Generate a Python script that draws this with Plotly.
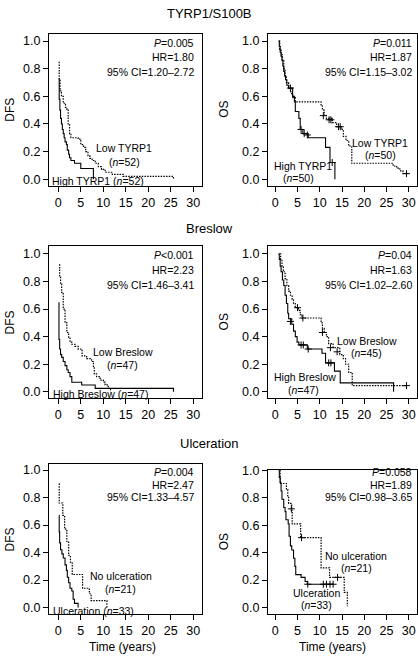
import plotly.graph_objects as go

W, H = 418, 657

# ---------------- data ----------------
time_ticks = [0, 5, 10, 15, 20, 25, 30]
surv_ticks = [0.0, 0.2, 0.4, 0.6, 0.8, 1.0]
surv_tick_labels = ["0.0", "0.2", "0.4", "0.6", "0.8", "1.0"]
section_titles = ["TYRP1/S100B", "Breslow", "Ulceration"]
y_titles = ["DFS", "OS", "DFS", "OS", "DFS", "OS"]

# TYRP1/S100B - DFS
tyrp1_dfs_high_t = [0.2, 0.2, 0.35, 0.5, 0.7, 0.9, 1.1, 1.3, 1.5, 1.8, 2.0, 2.3, 2.5, 2.8, 3.6, 5.0, 7.8]
tyrp1_dfs_high_s = [0.73, 0.58, 0.50, 0.44, 0.40, 0.36, 0.33, 0.30, 0.27, 0.25, 0.21, 0.18, 0.155, 0.135, 0.115, 0.077, 0.0]
tyrp1_dfs_low_t = [0.2, 0.2, 0.4, 0.7, 1.1, 1.6, 1.9, 2.2, 2.5, 2.8, 4.4, 5.0, 5.6, 6.1, 6.6, 7.0, 7.5, 8.2, 8.9, 9.6, 10.4, 12.0, 14.4, 25.6]
tyrp1_dfs_low_s = [0.85, 0.72, 0.64, 0.60, 0.55, 0.52, 0.50, 0.40, 0.33, 0.30, 0.29, 0.25, 0.23, 0.20, 0.17, 0.15, 0.135, 0.115, 0.09, 0.07, 0.05, 0.035, 0.02, 0.0]

# TYRP1/S100B - OS
tyrp1_os_high_t = [0.75, 0.9, 1.1, 1.3, 1.5, 1.7, 1.9, 2.1, 2.3, 2.6, 3.0, 3.9, 4.3, 4.5, 5.3, 5.6, 6.2, 7.4, 11.3, 12.3, 13.4]
tyrp1_os_high_s = [1.0, 0.96, 0.92, 0.89, 0.86, 0.82, 0.78, 0.75, 0.72, 0.68, 0.66, 0.60, 0.56, 0.49, 0.44, 0.36, 0.33, 0.30, 0.23, 0.12, 0.0]
tyrp1_os_high_cens_t = [3.4, 5.8, 6.5, 7.2, 12.8]
tyrp1_os_high_cens_s = [0.66, 0.36, 0.33, 0.32, 0.12]
tyrp1_os_low_t = [0.75, 1.0, 1.3, 1.6, 1.9, 2.2, 2.5, 3.0, 3.5, 3.9, 4.5, 10.3, 10.6, 11.0, 11.5, 12.8, 13.8, 14.8, 15.3, 15.9, 16.5, 17.2, 26.5, 27.3, 28.0, 28.7, 29.5]
tyrp1_os_low_s = [1.0, 0.94, 0.90, 0.86, 0.80, 0.74, 0.70, 0.66, 0.62, 0.59, 0.56, 0.53, 0.50, 0.46, 0.44, 0.41, 0.38, 0.36, 0.31, 0.28, 0.24, 0.115, 0.095, 0.08, 0.06, 0.04, 0.04]
tyrp1_os_low_cens_t = [10.8, 12.1, 12.5, 14.2, 14.6, 29.5]
tyrp1_os_low_cens_s = [0.46, 0.43, 0.43, 0.38, 0.38, 0.04]

# Breslow - DFS
breslow_dfs_high_t = [0.15, 0.15, 0.3, 0.5, 0.75, 1.1, 1.5, 1.9, 2.2, 2.6, 3.0, 5.2, 8.2, 25.6]
breslow_dfs_high_s = [0.65, 0.38, 0.31, 0.27, 0.25, 0.22, 0.19, 0.16, 0.14, 0.11, 0.07, 0.05, 0.025, 0.0]
breslow_dfs_low_t = [0.15, 0.3, 0.5, 0.75, 1.1, 1.5, 1.9, 2.3, 2.6, 3.0, 3.7, 4.4, 5.0, 5.3, 6.3, 7.4, 7.8, 8.0, 8.5, 9.3, 10.0, 10.4, 11.1, 11.6]
breslow_dfs_low_s = [0.92, 0.84, 0.78, 0.72, 0.60, 0.50, 0.43, 0.39, 0.36, 0.345, 0.33, 0.31, 0.30, 0.26, 0.24, 0.22, 0.18, 0.13, 0.11, 0.085, 0.07, 0.05, 0.025, 0.0]

# Breslow - OS
breslow_os_high_t = [0.7, 0.9, 1.1, 1.3, 1.6, 1.9, 2.2, 2.5, 2.8, 3.0, 3.7, 4.1, 4.5, 4.9, 5.3, 7.2, 10.5, 11.3, 13.3, 14.6, 26.6]
breslow_os_high_s = [1.0, 0.96, 0.91, 0.87, 0.81, 0.77, 0.70, 0.64, 0.57, 0.53, 0.49, 0.44, 0.40, 0.36, 0.34, 0.31, 0.28, 0.21, 0.15, 0.065, 0.0]
breslow_os_high_cens_t = [3.4, 5.8, 6.3, 7.4, 12.0, 12.5]
breslow_os_high_cens_s = [0.51, 0.34, 0.34, 0.31, 0.21, 0.21]
breslow_os_low_t = [1.0, 1.2, 1.5, 1.8, 2.2, 2.6, 3.0, 3.4, 3.8, 4.1, 4.5, 5.2, 5.6, 6.0, 10.3, 10.6, 11.0, 11.5, 12.0, 13.0, 14.5, 15.3, 15.8, 16.5, 17.3, 29.5]
breslow_os_low_s = [1.0, 0.96, 0.91, 0.87, 0.82, 0.77, 0.73, 0.70, 0.67, 0.64, 0.61, 0.59, 0.56, 0.535, 0.50, 0.46, 0.43, 0.40, 0.35, 0.32, 0.27, 0.24, 0.20, 0.14, 0.045, 0.045]
breslow_os_low_cens_t = [5.0, 6.2, 10.6, 12.4, 13.9, 29.5]
breslow_os_low_cens_s = [0.61, 0.535, 0.43, 0.32, 0.29, 0.045]

# Ulceration - DFS
ulcer_dfs_yes_t = [0.15, 0.2, 0.3, 0.5, 0.8, 1.1, 1.5, 1.8, 2.0, 2.3, 2.6, 3.0, 3.3, 3.6, 4.4]
ulcer_dfs_yes_s = [0.67, 0.55, 0.47, 0.42, 0.39, 0.36, 0.31, 0.27, 0.22, 0.18, 0.14, 0.12, 0.06, 0.03, 0.0]
ulcer_dfs_no_t = [0.15, 0.2, 1.0, 1.4, 1.9, 2.3, 2.7, 3.1, 5.4, 6.9, 7.3, 10.8]
ulcer_dfs_no_s = [0.90, 0.76, 0.67, 0.57, 0.48, 0.38, 0.33, 0.24, 0.14, 0.10, 0.05, 0.0]

# Ulceration - OS
ulcer_os_yes_t = [0.75, 0.9, 1.1, 1.3, 1.5, 1.9, 2.2, 2.4, 2.9, 3.1, 3.4, 3.7, 4.1, 4.4, 4.6, 5.8, 6.7, 7.2, 13.1]
ulcer_os_yes_s = [1.0, 0.95, 0.91, 0.85, 0.79, 0.73, 0.70, 0.64, 0.61, 0.52, 0.45, 0.42, 0.36, 0.30, 0.24, 0.22, 0.19, 0.17, 0.17]
ulcer_os_yes_cens_t = [7.3, 10.8, 11.5, 12.3, 13.0]
ulcer_os_yes_cens_s = [0.17, 0.17, 0.17, 0.17, 0.17]
ulcer_os_no_t = [1.0, 1.1, 2.5, 2.8, 3.0, 3.7, 3.8, 5.7, 10.3, 12.2, 15.5, 16.2]
ulcer_os_no_s = [1.0, 0.905, 0.86, 0.81, 0.76, 0.71, 0.61, 0.51, 0.29, 0.22, 0.11, 0.01]
ulcer_os_no_cens_t = [3.6, 5.9, 14.0]
ulcer_os_no_cens_s = [0.72, 0.51, 0.22]

stats = [
    ["<i>P</i>=0.005", "HR=1.80", "95% CI=1.20–2.72"],
    ["<i>P</i>=0.011", "HR=1.87", "95% CI=1.15–3.02"],
    ["<i>P</i>&lt;0.001", "HR=2.23", "95% CI=1.46–3.41"],
    ["<i>P</i>=0.04", "HR=1.63", "95% CI=1.02–2.60"],
    ["<i>P</i>=0.004", "HR=2.47", "95% CI=1.33–4.57"],
    ["<i>P</i>=0.058", "HR=1.89", "95% CI=0.98–3.65"],
]

curve_labels = [
    [["Low TYRP1", "(<i>n</i>=52)"], ["High TYRP1 (<i>n</i>=52)"]],
    [["Low TYRP1", "(<i>n</i>=50)"], ["High TYRP1", "(<i>n</i>=50)"]],
    [["Low Breslow", "(<i>n</i>=47)"], ["High Breslow (<i>n</i>=47)"]],
    [["Low Breslow", "(<i>n</i>=45)"], ["High Breslow", "(<i>n</i>=47)"]],
    [["No ulceration", "(<i>n</i>=21)"], ["Ulceration (<i>n</i>=33)"]],
    [["No ulceration", "(<i>n</i>=21)"], ["Ulceration", "(<i>n</i>=33)"]],
]

# ---------------- layout geometry (pixels) ----------------
# box: (left, right, top, bottom); tick px: x at t=0, x at t=30, y at s=1, y at s=0
geom = [
    dict(box=(49, 201.7, 28, 181.7), x0=58.3, x30=193.3, y1=35.5, y0=175),
    dict(box=(268, 416.5, 28, 181.7), x0=275.3, x30=408.7, y1=35.5, y0=175),
    dict(box=(49, 201.7, 243, 396.7), x0=58.3, x30=193.3, y1=250.5, y0=390),
    dict(box=(268, 416.5, 243, 396.7), x0=275.3, x30=408.7, y1=250.5, y0=390),
    dict(box=(49, 201.7, 463.3, 615), x0=58.3, x30=193.3, y1=469, y0=608),
    dict(box=(268, 416.5, 469, 615), x0=275.3, x30=408.7, y1=469.5, y0=608),
]
stat_pos = [  # right edge x, y of three lines
    (195.5, [37, 51.5, 66.5]),
    (413.5, [37, 51.5, 66.5]),
    (195.5, [252, 266.5, 281.5]),
    (413.5, [252, 266.5, 281.5]),
    (195.5, [471.5, 484, 496]),
    (413.5, [471.5, 484, 496]),
]
label_pos = [
    [[(124, 144), (124, 158)], [(97.5, 176.5)]],
    [[(379.5, 138.5), (380, 151)], [(302.5, 162), (298, 174)]],
    [[(123, 349.3), (122, 362.7)], [(100.3, 391.7)]],
    [[(367, 338.3), (366.3, 350.5)], [(305.3, 375), (303.3, 388)]],
    [[(120.8, 576.3), (120.8, 589.7)], [(93.7, 611.3)]],
    [[(356.2, 556.3), (356, 568.5)], [(316.2, 593.5), (316, 605.5)]],
]
section_y = [8, 225, 442]
ytitle_x = [10, 224]

FONT = "Liberation Sans, Arial, Helvetica, sans-serif"

curves = [
    [(tyrp1_dfs_low_t, tyrp1_dfs_low_s, None, None, "dot"),
     (tyrp1_dfs_high_t, tyrp1_dfs_high_s, None, None, "solid")],
    [(tyrp1_os_low_t, tyrp1_os_low_s, tyrp1_os_low_cens_t, tyrp1_os_low_cens_s, "dot"),
     (tyrp1_os_high_t, tyrp1_os_high_s, tyrp1_os_high_cens_t, tyrp1_os_high_cens_s, "solid")],
    [(breslow_dfs_low_t, breslow_dfs_low_s, None, None, "dot"),
     (breslow_dfs_high_t, breslow_dfs_high_s, None, None, "solid")],
    [(breslow_os_low_t, breslow_os_low_s, breslow_os_low_cens_t, breslow_os_low_cens_s, "dot"),
     (breslow_os_high_t, breslow_os_high_s, breslow_os_high_cens_t, breslow_os_high_cens_s, "solid")],
    [(ulcer_dfs_no_t, ulcer_dfs_no_s, None, None, "dot"),
     (ulcer_dfs_yes_t, ulcer_dfs_yes_s, None, None, "solid")],
    [(ulcer_os_no_t, ulcer_os_no_s, ulcer_os_no_cens_t, ulcer_os_no_cens_s, "dot"),
     (ulcer_os_yes_t, ulcer_os_yes_s, ulcer_os_yes_cens_t, ulcer_os_yes_cens_s, "solid")],
]


def px(x):
    return x / W


def py(y):
    return 1 - y / H


fig = go.Figure()
annotations = []
layout = dict(
    width=W, height=H, margin=dict(l=0, r=0, t=0, b=0),
    paper_bgcolor="white", plot_bgcolor="white", showlegend=False,
    font=dict(family=FONT, color="black"),
)

for i, g in enumerate(geom):
    n = i + 1
    sfx = "" if n == 1 else str(n)
    l, r, t, b = g["box"]
    kx = (g["x30"] - g["x0"]) / 30.0
    ky = (g["y0"] - g["y1"])
    xr = [(l - g["x0"]) / kx, (r - g["x0"]) / kx]
    yr = [-(b - g["y0"]) / ky, 1 + (g["y1"] - t) / ky]
    common = dict(showline=True, linecolor="black", linewidth=1, mirror=True,
                  ticks="outside", ticklen=5, tickwidth=1, tickcolor="black",
                  showgrid=False, zeroline=False, fixedrange=True,
                  tickfont=dict(family=FONT, size=12.5, color="black"))
    layout["xaxis" + sfx] = dict(domain=[px(l), px(r)], range=xr, anchor="y" + sfx,
                                 tickmode="array", tickvals=time_ticks, **common)
    layout["yaxis" + sfx] = dict(domain=[py(b), py(t)], range=yr, anchor="x" + sfx,
                                 tickmode="array", tickvals=surv_ticks,
                                 ticktext=surv_tick_labels, **common)

    for (ct, cs, ctt, css, dash) in curves[i]:
        fig.add_trace(go.Scatter(
            x=ct, y=cs, mode="lines", line_shape="hv",
            line=dict(color="black", width=1.1 if dash == "solid" else 1.2,
                      dash="solid" if dash == "solid" else "1.5px,1.2px"),
            xaxis="x" + sfx, yaxis="y" + sfx, hoverinfo="skip"))
        if ctt:
            fig.add_trace(go.Scatter(
                x=ctt, y=css, mode="markers",
                marker=dict(symbol="cross-thin", size=5, line=dict(color="black", width=1)),
                xaxis="x" + sfx, yaxis="y" + sfx, hoverinfo="skip"))

    # stats
    xr_edge, ys = stat_pos[i]
    for txt, yy in zip(stats[i], ys):
        annotations.append(dict(x=px(xr_edge), y=py(yy), xref="paper", yref="paper",
                                text=txt, showarrow=False, xanchor="right", yanchor="middle",
                                font=dict(family=FONT, size=10.5, color="black")))
    # curve labels
    for grp_txt, grp_pos in zip(curve_labels[i], label_pos[i]):
        for txt, (xx, yy) in zip(grp_txt, grp_pos):
            annotations.append(dict(x=px(xx), y=py(yy), xref="paper", yref="paper",
                                    text=txt, showarrow=False, xanchor="center", yanchor="middle",
                                    font=dict(family=FONT, size=10.5, color="black")))
    # y axis title
    annotations.append(dict(x=px(ytitle_x[i % 2]), y=py((t + b) / 2), xref="paper", yref="paper",
                            text=y_titles[i], showarrow=False, textangle=-90,
                            xanchor="center", yanchor="middle",
                            font=dict(family=FONT, size=12, color="black")))

# section titles
for txt, yy in zip(section_titles, section_y):
    annotations.append(dict(x=px(209), y=py(yy), xref="paper", yref="paper", text=txt,
                            showarrow=False, xanchor="center", yanchor="middle",
                            font=dict(family=FONT, size=13, color="black")))
# x axis titles
for xx in [123, 332]:
    annotations.append(dict(x=px(xx), y=py(648), xref="paper", yref="paper", text="Time (years)",
                            showarrow=False, xanchor="center", yanchor="middle",
                            font=dict(family=FONT, size=12, color="black")))

layout["annotations"] = annotations
fig.update_layout(**layout)
fig.write_html("out.html", config={"displayModeBar": False},
               post_script="document.body.style.margin='0';document.body.style.overflow='hidden';")
